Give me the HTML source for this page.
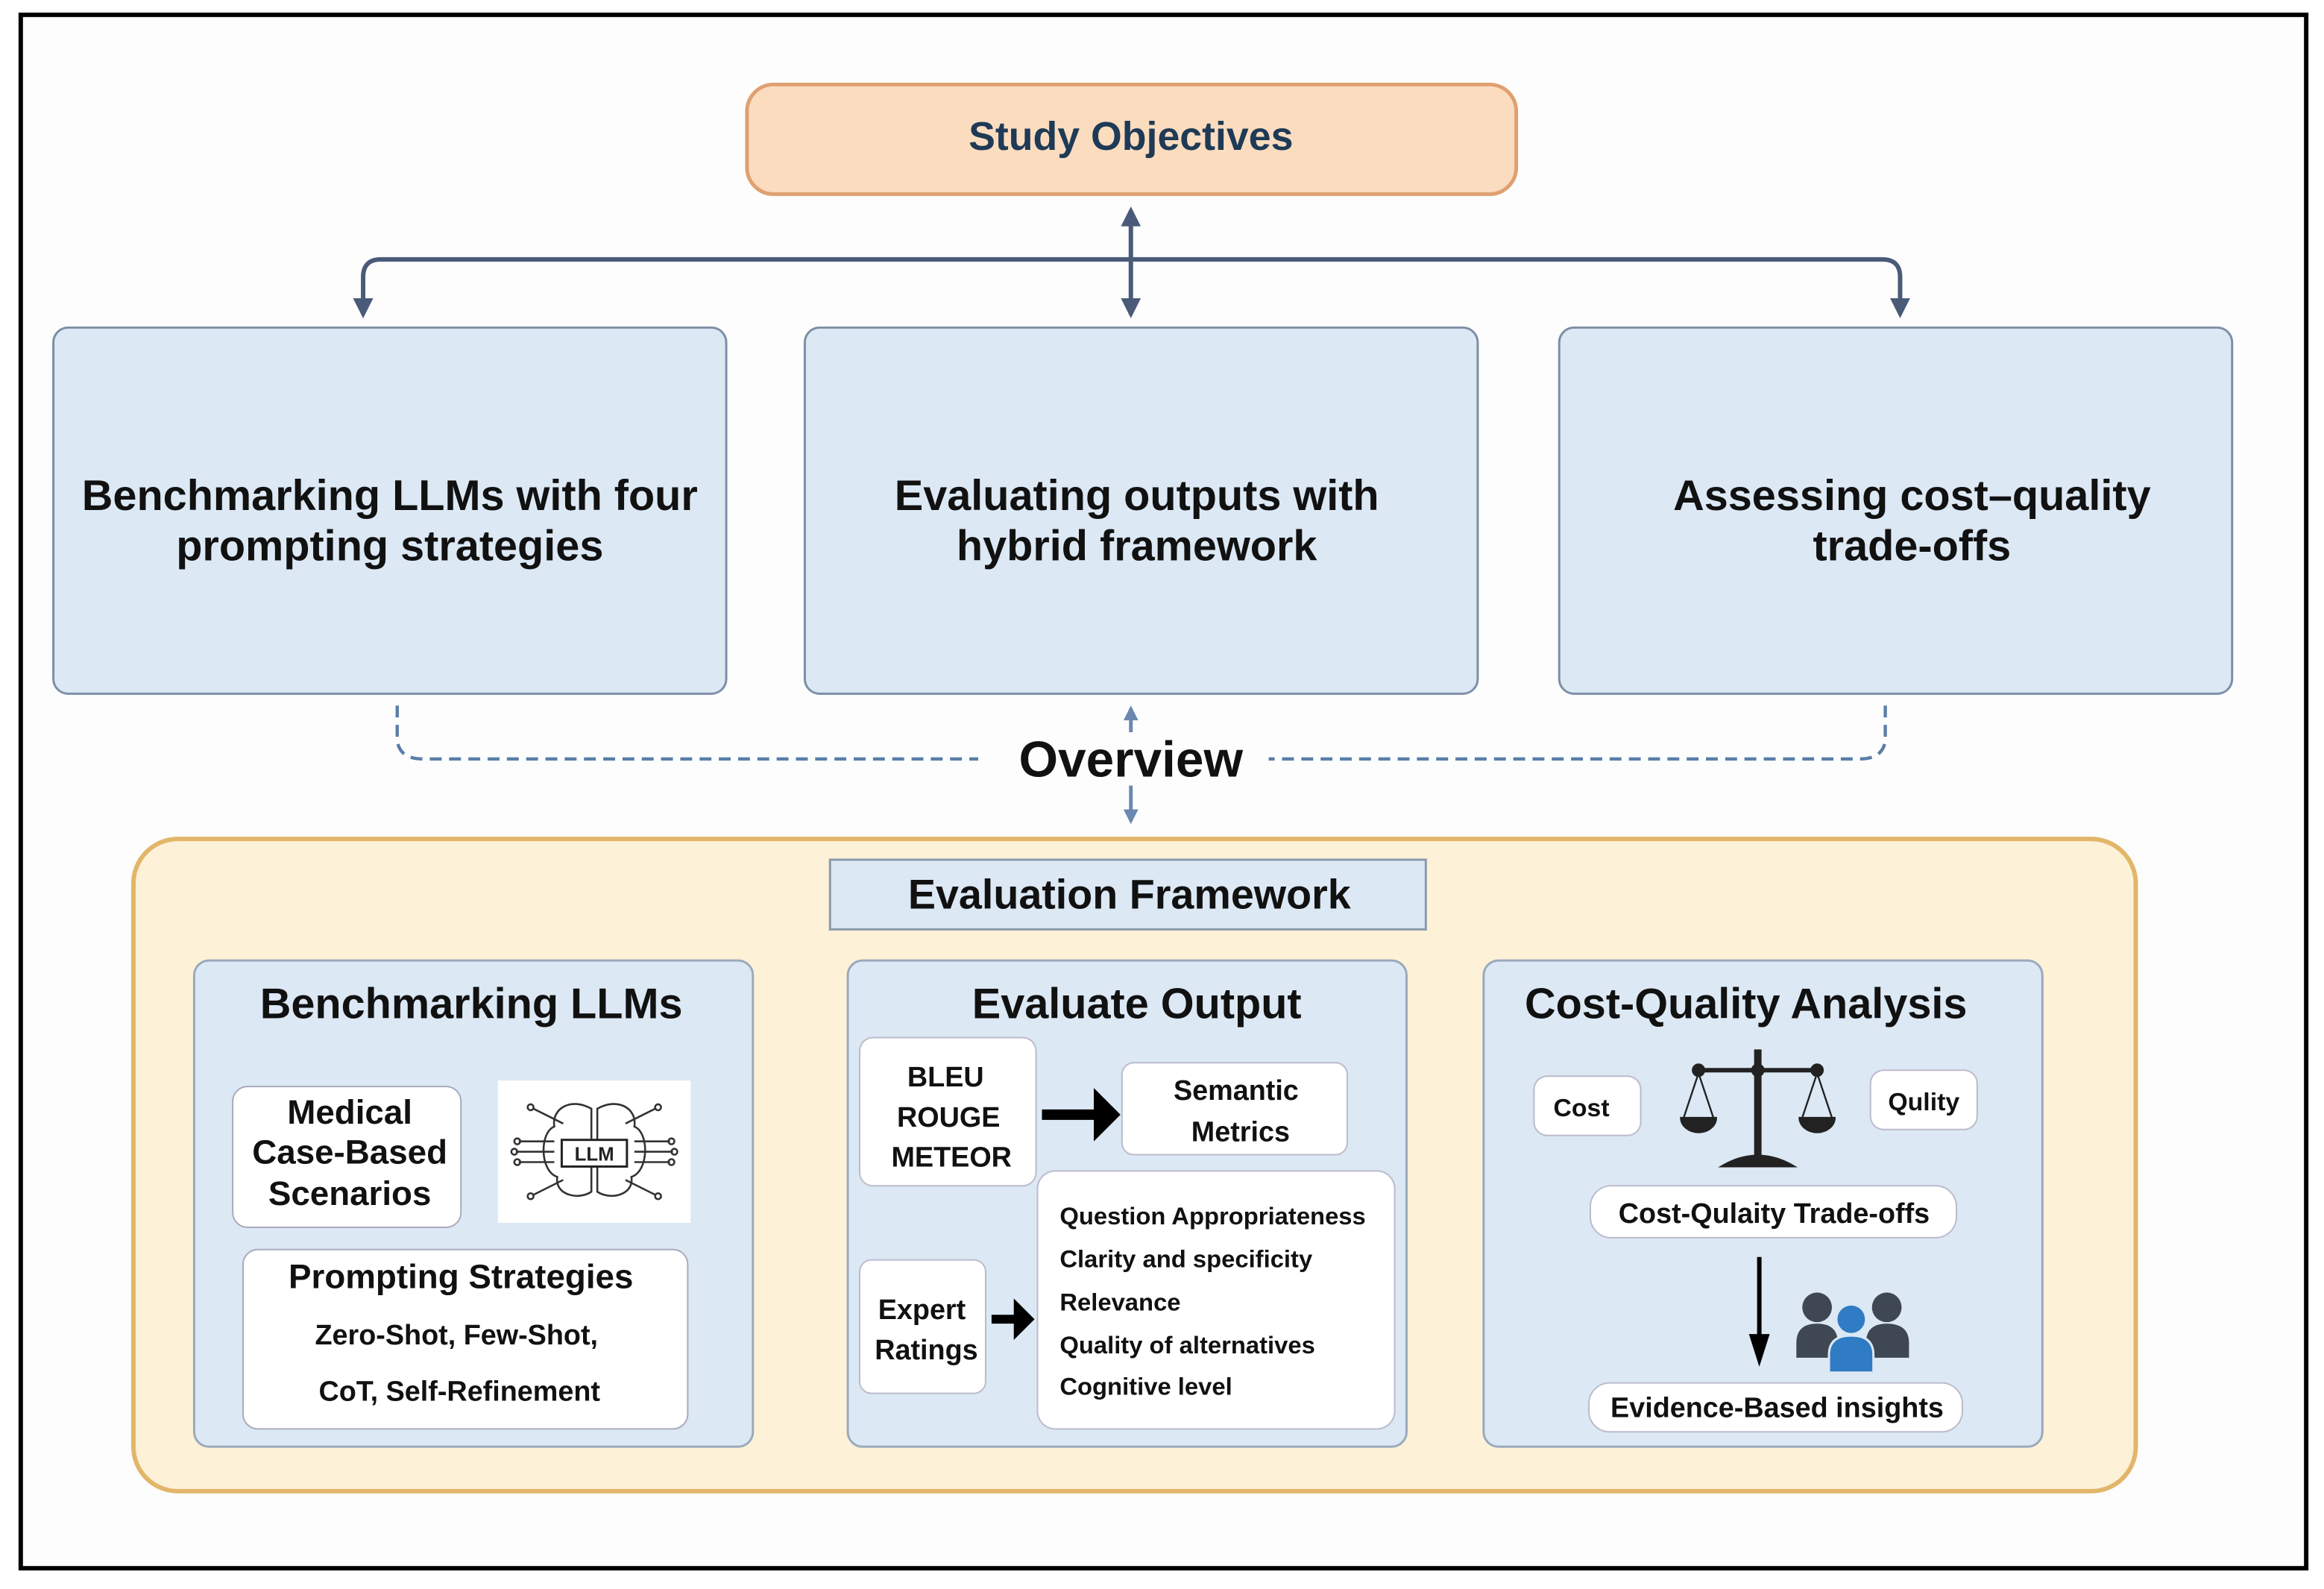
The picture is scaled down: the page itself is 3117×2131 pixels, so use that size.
<!DOCTYPE html>
<html><head><meta charset="utf-8"><style>
html,body{margin:0;padding:0;background:#fff;}
svg{display:block;}
text{font-family:"Liberation Sans",sans-serif;}
</style></head><body>
<svg width="3117" height="2131" viewBox="0 0 1568 1072" preserveAspectRatio="none" xmlns="http://www.w3.org/2000/svg">
<defs>
<marker id="ah" viewBox="0 0 10 10" refX="8" refY="5" markerWidth="4.5" markerHeight="4.5" orient="auto-start-reverse"><path d="M0,0 L10,5 L0,10 z" fill="#4a5a78"/></marker>
<marker id="ab" viewBox="0 0 10 10" refX="8" refY="5" markerWidth="4" markerHeight="4" orient="auto-start-reverse"><path d="M0,0 L10,5 L0,10 z" fill="#6a88b0"/></marker>
<marker id="ak" viewBox="0 0 10 10" refX="8" refY="5" markerWidth="5" markerHeight="5" orient="auto"><path d="M0,0 L10,5 L0,10 z" fill="#000"/></marker>
</defs>
<rect x="0" y="0" width="1568" height="1072" fill="#fff"/>
<rect x="14" y="10" width="1542" height="1048" fill="#fdfdfd" stroke="#000" stroke-width="3"/>

<!-- Study objectives -->
<rect x="504" y="57" width="519" height="74" rx="18" fill="#fbdcbf" stroke="#e0a070" stroke-width="2.5"/>
<text x="763" y="101" text-anchor="middle" font-size="27" font-weight="bold" fill="#1e3a56">Study Objectives</text>

<!-- connectors -->
<path d="M245,212 L245,187 Q245,175 257,175 L1270,175 Q1282,175 1282,187 L1282,212" fill="none" stroke="#4a5a78" stroke-width="3" marker-start="url(#ah)" marker-end="url(#ah)"/>
<path d="M763,142 L763,212" fill="none" stroke="#4a5a78" stroke-width="3" marker-start="url(#ah)" marker-end="url(#ah)"/>
<path d="M245,200 L245,212" stroke="#4a5a78" stroke-width="3" marker-end="url(#ah)"/>

<!-- three boxes -->
<rect x="36" y="221" width="454" height="247" rx="10" fill="#dce8f4" stroke="#7d8fa6" stroke-width="1.5"/>
<rect x="543" y="221" width="454" height="247" rx="10" fill="#dce8f4" stroke="#7d8fa6" stroke-width="1.5"/>
<rect x="1052" y="221" width="454" height="247" rx="10" fill="#dce8f4" stroke="#7d8fa6" stroke-width="1.5"/>
<g font-size="29" font-weight="bold" fill="#111" text-anchor="middle">
<text x="263" y="344">Benchmarking LLMs with four</text>
<text x="263" y="378">prompting strategies</text>
<text x="767" y="344">Evaluating outputs with</text>
<text x="767" y="378">hybrid framework</text>
<text x="1290" y="344">Assessing cost–quality</text>
<text x="1290" y="378">trade-offs</text>
</g>

<!-- overview -->
<path d="M268,476 L268,500 Q270,512 285,512 L660,512" fill="none" stroke="#5a7ea8" stroke-width="2.2" stroke-dasharray="8,5"/>
<path d="M1272,476 L1272,500 Q1270,512 1255,512 L856,512" fill="none" stroke="#5a7ea8" stroke-width="2.2" stroke-dasharray="8,5"/>
<line x1="763" y1="478" x2="763" y2="494" stroke="#6a88b0" stroke-width="2.5" marker-start="url(#ab)"/>
<line x1="763" y1="530" x2="763" y2="554" stroke="#6a88b0" stroke-width="2.5" marker-end="url(#ab)"/>
<text x="763" y="524" text-anchor="middle" font-size="34" fill="#111" font-weight="bold">Overview</text>

<!-- framework -->
<rect x="90" y="566" width="1351" height="440" rx="30" fill="#fdf1d8" stroke="#e2b66a" stroke-width="3"/>
<rect x="560" y="580" width="402" height="47" fill="#dce8f4" stroke="#8a9aaa" stroke-width="1.5"/>
<text x="762" y="613" text-anchor="middle" font-size="28" font-weight="bold" fill="#111">Evaluation Framework</text>

<rect x="131" y="648" width="377" height="328" rx="10" fill="#dce8f4" stroke="#9aaabb" stroke-width="1.5"/>
<rect x="572" y="648" width="377" height="328" rx="10" fill="#dce8f4" stroke="#9aaabb" stroke-width="1.5"/>
<rect x="1001" y="648" width="377" height="328" rx="10" fill="#dce8f4" stroke="#9aaabb" stroke-width="1.5"/>
<g font-size="29" font-weight="bold" fill="#111" text-anchor="middle">
<text x="318" y="687">Benchmarking LLMs</text>
<text x="767" y="687">Evaluate Output</text>
<text x="1178" y="687">Cost-Quality Analysis</text>
</g>

<!-- panel 1 -->
<rect x="157" y="733" width="154" height="95" rx="10" fill="#fff" stroke="#aab" stroke-width="1"/>
<g font-size="23" font-weight="bold" fill="#111" text-anchor="middle">
<text x="236" y="758">Medical</text>
<text x="236" y="785">Case-Based</text>
<text x="236" y="813">Scenarios</text>
</g>
<rect x="336" y="729" width="130" height="96" fill="#fff"/>
<g stroke="#333" stroke-width="1.3" fill="none">
<path d="M399,748 C385,740 372,748 374,760 C364,764 364,790 376,794 C374,806 390,810 399,804 Z"/>
<path d="M403,748 C417,740 430,748 428,760 C438,764 438,790 426,794 C428,806 412,810 403,804 Z"/>
<path d="M374,770 L350,770 M374,777 L348,777 M374,784 L350,784 M380,758 L360,748 M380,796 L360,806 M428,770 L452,770 M428,777 L454,777 M428,784 L452,784 M422,758 L442,748 M422,796 L442,806"/>
<circle cx="349" cy="770" r="2"/><circle cx="347" cy="777" r="2"/><circle cx="349" cy="784" r="2"/><circle cx="358" cy="747" r="2"/><circle cx="358" cy="807" r="2"/>
<circle cx="453" cy="770" r="2"/><circle cx="455" cy="777" r="2"/><circle cx="453" cy="784" r="2"/><circle cx="444" cy="747" r="2"/><circle cx="444" cy="807" r="2"/>
</g>
<rect x="379" y="769" width="44" height="18" fill="#fff" stroke="#222" stroke-width="1.5"/>
<text x="401" y="783" text-anchor="middle" font-size="13" font-weight="bold" fill="#222">LLM</text>

<rect x="164" y="843" width="300" height="121" rx="10" fill="#fff" stroke="#aab" stroke-width="1"/>
<text x="311" y="869" text-anchor="middle" font-size="23" font-weight="bold" fill="#111">Prompting Strategies</text>
<g font-size="19" font-weight="bold" fill="#111" text-anchor="middle">
<text x="308" y="907">Zero-Shot, Few-Shot,</text>
<text x="310" y="945">CoT, Self-Refinement</text>
</g>

<!-- panel 2 -->
<rect x="580" y="700" width="119" height="100" rx="9" fill="#fff" stroke="#bbc" stroke-width="1"/>
<g font-size="19" font-weight="bold" fill="#111" text-anchor="middle">
<text x="638" y="733">BLEU</text>
<text x="640" y="760">ROUGE</text>
<text x="642" y="787">METEOR</text>
</g>
<line x1="703" y1="752" x2="748" y2="752" stroke="#000" stroke-width="7"/>
<path d="M738,734 L756,752 L738,770 Z" fill="#000"/>
<rect x="757" y="717" width="152" height="62" rx="8" fill="#fff" stroke="#bbc" stroke-width="1"/>
<g font-size="19" font-weight="bold" fill="#111" text-anchor="middle">
<text x="834" y="742">Semantic</text>
<text x="837" y="770">Metrics</text>
</g>
<rect x="700" y="790" width="241" height="174" rx="12" fill="#fff" stroke="#bbc" stroke-width="1"/>
<g font-size="16.5" font-weight="bold" fill="#111">
<text x="715" y="826">Question Appropriateness</text>
<text x="715" y="855">Clarity and specificity</text>
<text x="715" y="884">Relevance</text>
<text x="715" y="913">Quality of alternatives</text>
<text x="715" y="941">Cognitive level</text>
</g>
<rect x="580" y="850" width="85" height="90" rx="8" fill="#fff" stroke="#bbc" stroke-width="1"/>
<g font-size="19" font-weight="bold" fill="#111" text-anchor="middle">
<text x="622" y="890">Expert</text>
<text x="625" y="917">Ratings</text>
</g>
<line x1="669" y1="890" x2="690" y2="890" stroke="#000" stroke-width="6"/>
<path d="M684,876 L698,890 L684,904 Z" fill="#000"/>

<!-- panel 3 -->
<rect x="1035" y="726" width="72" height="40" rx="9" fill="#fff" stroke="#bbc" stroke-width="1"/>
<text x="1067" y="753" text-anchor="middle" font-size="17" font-weight="bold" fill="#111">Cost</text>
<rect x="1262" y="722" width="72" height="40" rx="9" fill="#fff" stroke="#bbc" stroke-width="1"/>
<text x="1298" y="749" text-anchor="middle" font-size="17" font-weight="bold" fill="#111">Qulity</text>
<g fill="#222" stroke="#222">
<line x1="1186" y1="708" x2="1186" y2="782" stroke-width="5"/>
<line x1="1146" y1="722" x2="1226" y2="722" stroke-width="3"/>
<circle cx="1146" cy="722" r="4"/><circle cx="1186" cy="722" r="4"/><circle cx="1226" cy="722" r="4"/>
<path d="M1146,724 L1136,754 M1146,724 L1156,754 M1226,724 L1216,754 M1226,724 L1236,754" stroke-width="1.2" fill="none"/>
<path d="M1134,754 L1158,754 A12,10 0 0 1 1134,754 Z"/>
<path d="M1214,754 L1238,754 A12,10 0 0 1 1214,754 Z"/>
<path d="M1161,787 Q1186,772 1211,787 Z"/>
</g>
<rect x="1073" y="800" width="247" height="35" rx="14" fill="#fff" stroke="#bbc" stroke-width="1"/>
<text x="1197" y="825" text-anchor="middle" font-size="19" font-weight="bold" fill="#111">Cost-Qulaity Trade-offs</text>
<line x1="1187" y1="848" x2="1187" y2="910" stroke="#000" stroke-width="3"/>
<path d="M1180,900 L1187,922 L1194,900 Z" fill="#000"/>
<g fill="#3f4752">
<circle cx="1226" cy="882" r="10"/><path d="M1212,916 L1212,906 Q1212,893 1226,893 Q1240,893 1240,906 L1240,916 Z"/>
<circle cx="1273" cy="882" r="10"/><path d="M1259,916 L1259,906 Q1259,893 1273,893 Q1288,893 1288,906 L1288,916 Z"/>
</g>
<g fill="#2f7bc4" stroke="#dce8f4" stroke-width="1.5">
<circle cx="1249" cy="890" r="10"/><path d="M1234,926 L1234,914 Q1234,901 1249,901 Q1264,901 1264,914 L1264,926 Z"/>
</g>
<rect x="1072" y="933" width="252" height="33" rx="14" fill="#fff" stroke="#bbc" stroke-width="1"/>
<text x="1199" y="956" text-anchor="middle" font-size="19" font-weight="bold" fill="#111">Evidence-Based insights</text>
</svg>
</body></html>
